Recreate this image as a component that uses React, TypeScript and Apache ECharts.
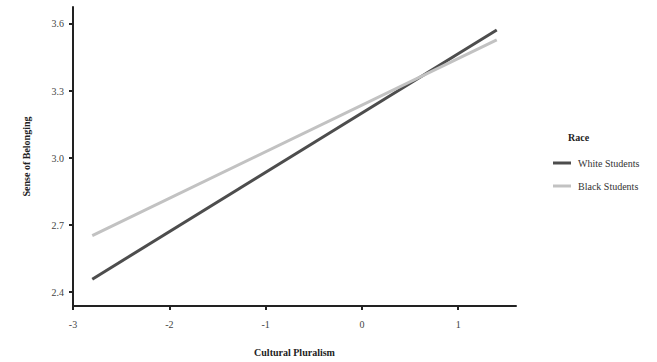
import React, { useEffect, useRef } from "react";
import * as echarts from "echarts";

const xEnds = [-2.8, 1.4];
const whiteStudents = [2.458, 3.573];
const blackStudents = [2.653, 3.529];
const xTicks = [-3, -2, -1, 0, 1];
const yTicks = [2.4, 2.7, 3.0, 3.3, 3.6];
const seriesNames = ["White Students", "Black Students"];

const FONT = "'Liberation Serif', 'Times New Roman', serif";

export default function App() {
  const ref = useRef<HTMLDivElement>(null);
  useEffect(() => {
    if (!ref.current) return;
    const chart = echarts.init(ref.current, null, { renderer: "svg" });
    chart.setOption({
      animation: false,
      backgroundColor: "#ffffff",
      textStyle: { fontFamily: FONT },
      title: {
        text: "Race",
        left: 563,
        top: 127,
        textStyle: { fontFamily: FONT, fontSize: 10, fontWeight: "bold", color: "#222" },
      },
      legend: {
        orient: "vertical",
        left: 548,
        top: 153,
        itemWidth: 18,
        itemHeight: 3,
        itemGap: 13,
        icon: "rect",
        data: seriesNames,
        textStyle: { fontFamily: FONT, fontSize: 10, color: "#333", padding: [0, 0, 0, 2] },
      },
      grid: { left: 73, top: 7, right: 141, bottom: 54, containLabel: false },
      xAxis: {
        type: "value",
        min: -3,
        max: 1.6,
        name: "Cultural Pluralism",
        nameLocation: "middle",
        nameGap: 41,
        nameTextStyle: { fontFamily: FONT, fontSize: 10, fontWeight: "bold", color: "#222" },
        splitLine: { show: false },
        axisLine: { show: true, onZero: false, lineStyle: { color: "#222", width: 2 } },
        axisTick: { show: true, length: 4, lineStyle: { color: "#222", width: 2 }, customValues: xTicks },
        axisLabel: {
          fontFamily: FONT,
          fontSize: 10,
          color: "#444",
          margin: 13,
          customValues: xTicks,
          formatter: (v: number) => String(v),
        },
      },
      yAxis: {
        type: "value",
        min: 2.338,
        max: 3.676,
        name: "Sense of Belonging",
        nameLocation: "middle",
        nameGap: 42,
        nameTextStyle: { fontFamily: FONT, fontSize: 10, fontWeight: "bold", color: "#222" },
        splitLine: { show: false },
        axisLine: { show: true, onZero: false, lineStyle: { color: "#222", width: 2 } },
        axisTick: { show: true, length: 4, lineStyle: { color: "#222", width: 2 }, customValues: yTicks },
        axisLabel: {
          fontFamily: FONT,
          fontSize: 10,
          color: "#444",
          margin: 9,
          customValues: yTicks,
          formatter: (v: number) => v.toFixed(1),
        },
      },
      series: [
        {
          name: seriesNames[0],
          type: "line",
          data: xEnds.map((x, i) => [x, whiteStudents[i]]),
          showSymbol: false,
          symbol: "none",
          lineStyle: { color: "#4d4d4d", width: 3 },
          itemStyle: { color: "#4d4d4d" },
        },
        {
          name: seriesNames[1],
          type: "line",
          data: xEnds.map((x, i) => [x, blackStudents[i]]),
          showSymbol: false,
          symbol: "none",
          lineStyle: { color: "#c2c2c2", width: 3 },
          itemStyle: { color: "#c2c2c2" },
        },
      ],
    });
    return () => chart.dispose();
  }, []);
  return (
    <div
      ref={ref}
      style={{ position: "fixed", left: 0, top: 0, width: 657, height: 362, background: "#fff" }}
    />
  );
}
